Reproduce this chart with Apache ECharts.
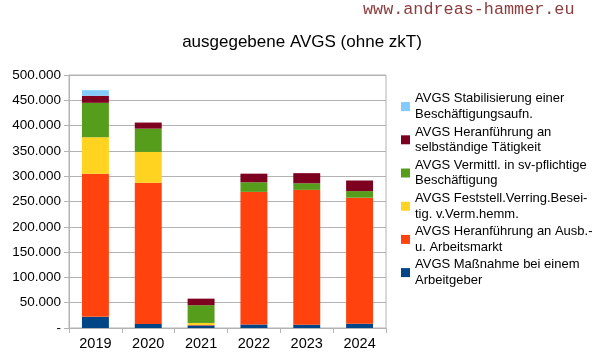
<!DOCTYPE html>
<html><head><meta charset="utf-8">
<script src="https://cdn.jsdelivr.net/npm/echarts@6/dist/echarts.min.js"></script>
<style>html,body{margin:0;padding:0;background:#fff}#c{width:606px;height:360px}</style>
</head><body><div id="c"></div>
<script>
const years = ['2019','2020','2021','2022','2023','2024'];
const massnahmeArbeitgeber = [22000, 8000, 5000, 7000, 6500, 8500];
const heranfuehrungAusb = [283000, 279000, 1000, 262000, 266500, 249000];
const feststellVerring = [72000, 61000, 4000, 0, 0, 0];
const vermittlSv = [68000, 46000, 35000, 19000, 13000, 13000];
const heranfuehrungSelbst = [14000, 12000, 13000, 17000, 20000, 21000];
const stabilisierung = [11000, 0, 0, 0, 0, 0];
const yTicks = [0, 50000, 100000, 150000, 200000, 250000, 300000, 350000, 400000, 450000, 500000];

const seriesDefs = [
  ['AVGS Maßnahme bei einem\nArbeitgeber', massnahmeArbeitgeber, '#004586'],
  ['AVGS Heranführung an Ausb.-\nu. Arbeitsmarkt', heranfuehrungAusb, '#ff420e'],
  ['AVGS Feststell.Verring.Besei-\ntig. v.Verm.hemm.', feststellVerring, '#ffd320'],
  ['AVGS Vermittl. in sv-pflichtige\nBeschäftigung', vermittlSv, '#579d1c'],
  ['AVGS Heranführung an\nselbständige Tätigkeit', heranfuehrungSelbst, '#7e0021'],
  ['AVGS Stabilisierung einer\nBeschäftigungsaufn.', stabilisierung, '#83caff']
];

const chart = echarts.init(document.getElementById('c'), null, {renderer:'canvas'});
chart.setOption({
  animation: false,
  backgroundColor: '#fff',
  title: [
    {text: 'ausgegebene AVGS (ohne zkT)', left: 302, top: 34, textAlign: 'center', padding: 0,
     textStyle: {fontFamily: 'Liberation Sans, Arial', fontSize: 17, fontWeight: 'normal', color: '#000'}},
    {text: 'www.andreas-hammer.eu', left: 363, top: 1, padding: 0,
     textStyle: {fontFamily: 'Liberation Mono, Courier New, monospace', fontSize: 16.8, fontWeight: 'normal', color: '#8b3c3c'}}
  ],
  grid: {left: 69, right: 220, top: 75, bottom: 32, containLabel: false, show: true, borderColor: '#b3b3b3', borderWidth: 1},
  legend: {
    orient: 'vertical', left: 401, top: 91, padding: 0, itemWidth: 9, itemHeight: 9, itemGap: 2,
    icon: 'rect',
    data: seriesDefs.map(d => d[0]).reverse(),
    textStyle: {fontFamily: 'Liberation Sans, Arial', fontSize: 13, color: '#000', lineHeight: 15.6}
  },
  xAxis: {
    type: 'category', data: years,
    axisLine: {lineStyle: {color: '#b3b3b3'}},
    axisTick: {show: true, length: 5, lineStyle: {color: '#b3b3b3'}},
    axisLabel: {fontFamily: 'Liberation Sans, Arial', fontSize: 14.5, color: '#000', margin: 8}
  },
  yAxis: {
    type: 'value', min: 0, max: 500000, interval: 50000,
    axisLine: {show: true, lineStyle: {color: '#b3b3b3'}},
    axisTick: {show: true, length: 5, inside: false, lineStyle: {color: '#b3b3b3'}},
    splitLine: {lineStyle: {color: '#b3b3b3'}},
    axisLabel: {fontFamily: 'Liberation Sans, Arial', fontSize: 13.5, color: '#000', margin: 8,
      formatter: v => v === 0 ? '-' : v.toLocaleString('de-DE')}
  },
  series: seriesDefs.map(d => ({
    name: d[0], type: 'bar', stack: 'a', data: d[1], barWidth: '51%',
    itemStyle: {color: d[2]}
  }))
});
</script></body></html>
